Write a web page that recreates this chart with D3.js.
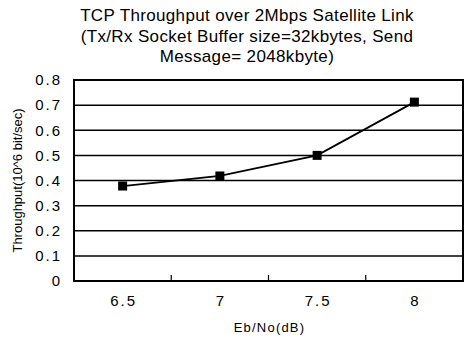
<!DOCTYPE html>
<html lang="en">
<head>
<meta charset="UTF-8">
<title>TCP Throughput</title>
<script src="https://d3js.org/d3.v7.min.js"></script>
<style>
  body { margin: 0; background: #fff; }
  text { font-family: "Liberation Sans", Arial, sans-serif; fill: #000; }
</style>
</head>
<body>
<div id="chart"></div>
<script>
// data
var categories = ["6.5", "7", "7.5", "8"];
var throughput = [0.378, 0.418, 0.50, 0.712];
var yTicks = [0, 0.1, 0.2, 0.3, 0.4, 0.5, 0.6, 0.7, 0.8];
var titleLines = ["TCP Throughput over 2Mbps Satellite Link",
                  "(Tx/Rx Socket Buffer size=32kbytes, Send",
                  "Message= 2048kbyte)"];

var W = 467, H = 339;
var m = {left: 74, right: 4, top: 80, bottom: 58};

var svg = d3.select("#chart").append("svg")
    .attr("width", W)
    .attr("height", H);

var x = d3.scaleBand()
    .domain(categories)
    .range([m.left, W - m.right]);

var y = d3.scaleLinear()
    .domain([0, 0.8])
    .range([H - m.bottom, m.top]);

// title
svg.append("g").selectAll("text")
    .data(titleLines)
    .enter().append("text")
    .attr("x", 247)
    .attr("y", function(d, i) { return 21 + i * 20.5; })
    .attr("text-anchor", "middle")
    .style("font-size", "17px")
    .style("letter-spacing", "0.35px")
    .text(function(d) { return d; });

// horizontal grid lines
svg.append("g").selectAll("line")
    .data(yTicks)
    .enter().append("line")
    .attr("x1", m.left)
    .attr("x2", W - m.right)
    .attr("y1", function(d) { return y(d); })
    .attr("y2", function(d) { return y(d); })
    .attr("stroke", "#000")
    .attr("stroke-width", 1.5);

// plot frame
svg.append("rect")
    .attr("x", m.left)
    .attr("y", m.top)
    .attr("width", W - m.right - m.left)
    .attr("height", H - m.bottom - m.top)
    .attr("fill", "none")
    .attr("stroke", "#000")
    .attr("stroke-width", 2);

// y axis labels
var yAxis = d3.axisLeft(y).tickValues(yTicks).tickSize(0).tickPadding(12)
    .tickFormat(function(d) { return d === 0 ? "0" : d3.format(".1f")(d); });
var gy = svg.append("g")
    .attr("transform", "translate(" + m.left + ",0)")
    .call(yAxis);
gy.select(".domain").remove();
gy.selectAll("text")
    .style("font-size", "15px")
    .style("letter-spacing", "2px")
    .style("font-family", "'Liberation Sans', Arial, sans-serif");

// x axis: labels at band centres, ticks between bands pointing inward
var xAxis = d3.axisBottom(x).tickSize(0).tickPadding(14);
var gx = svg.append("g")
    .attr("transform", "translate(1," + (H - m.bottom) + ")")
    .call(xAxis);
gx.select(".domain").remove();
gx.selectAll("text")
    .style("font-size", "15px")
    .style("letter-spacing", "2px")
    .style("font-family", "'Liberation Sans', Arial, sans-serif");

svg.append("g").selectAll("line")
    .data(categories.slice(1))
    .enter().append("line")
    .attr("x1", function(d) { return x(d); })
    .attr("x2", function(d) { return x(d); })
    .attr("y1", H - m.bottom)
    .attr("y2", H - m.bottom - 6)
    .attr("stroke", "#000")
    .attr("stroke-width", 1.2);

// axis titles
svg.append("text")
    .attr("x", (m.left + W - m.right) / 2 + 1)
    .attr("y", 332)
    .attr("text-anchor", "middle")
    .style("font-size", "13px")
    .style("letter-spacing", "1.2px")
    .text("Eb/No(dB)");

svg.append("text")
    .attr("transform", "translate(22," + ((m.top + H - m.bottom) / 2) + ") rotate(-90)")
    .attr("text-anchor", "middle")
    .style("font-size", "13px")
    .text("Throughput(10^6 bit/sec)");

// series line and markers
var pts = categories.map(function(c, i) { return {c: c, v: throughput[i]}; });
var line = d3.line()
    .x(function(d) { return x(d.c) + x.bandwidth() / 2; })
    .y(function(d) { return y(d.v); });

svg.append("path")
    .datum(pts)
    .attr("d", line)
    .attr("fill", "none")
    .attr("stroke", "#000")
    .attr("stroke-width", 1.8);

svg.append("g").selectAll("rect")
    .data(pts)
    .enter().append("rect")
    .attr("x", function(d) { return x(d.c) + x.bandwidth() / 2 - 4.5; })
    .attr("y", function(d) { return y(d.v) - 4.5; })
    .attr("width", 9)
    .attr("height", 9)
    .attr("fill", "#000");
</script>
</body>
</html>
